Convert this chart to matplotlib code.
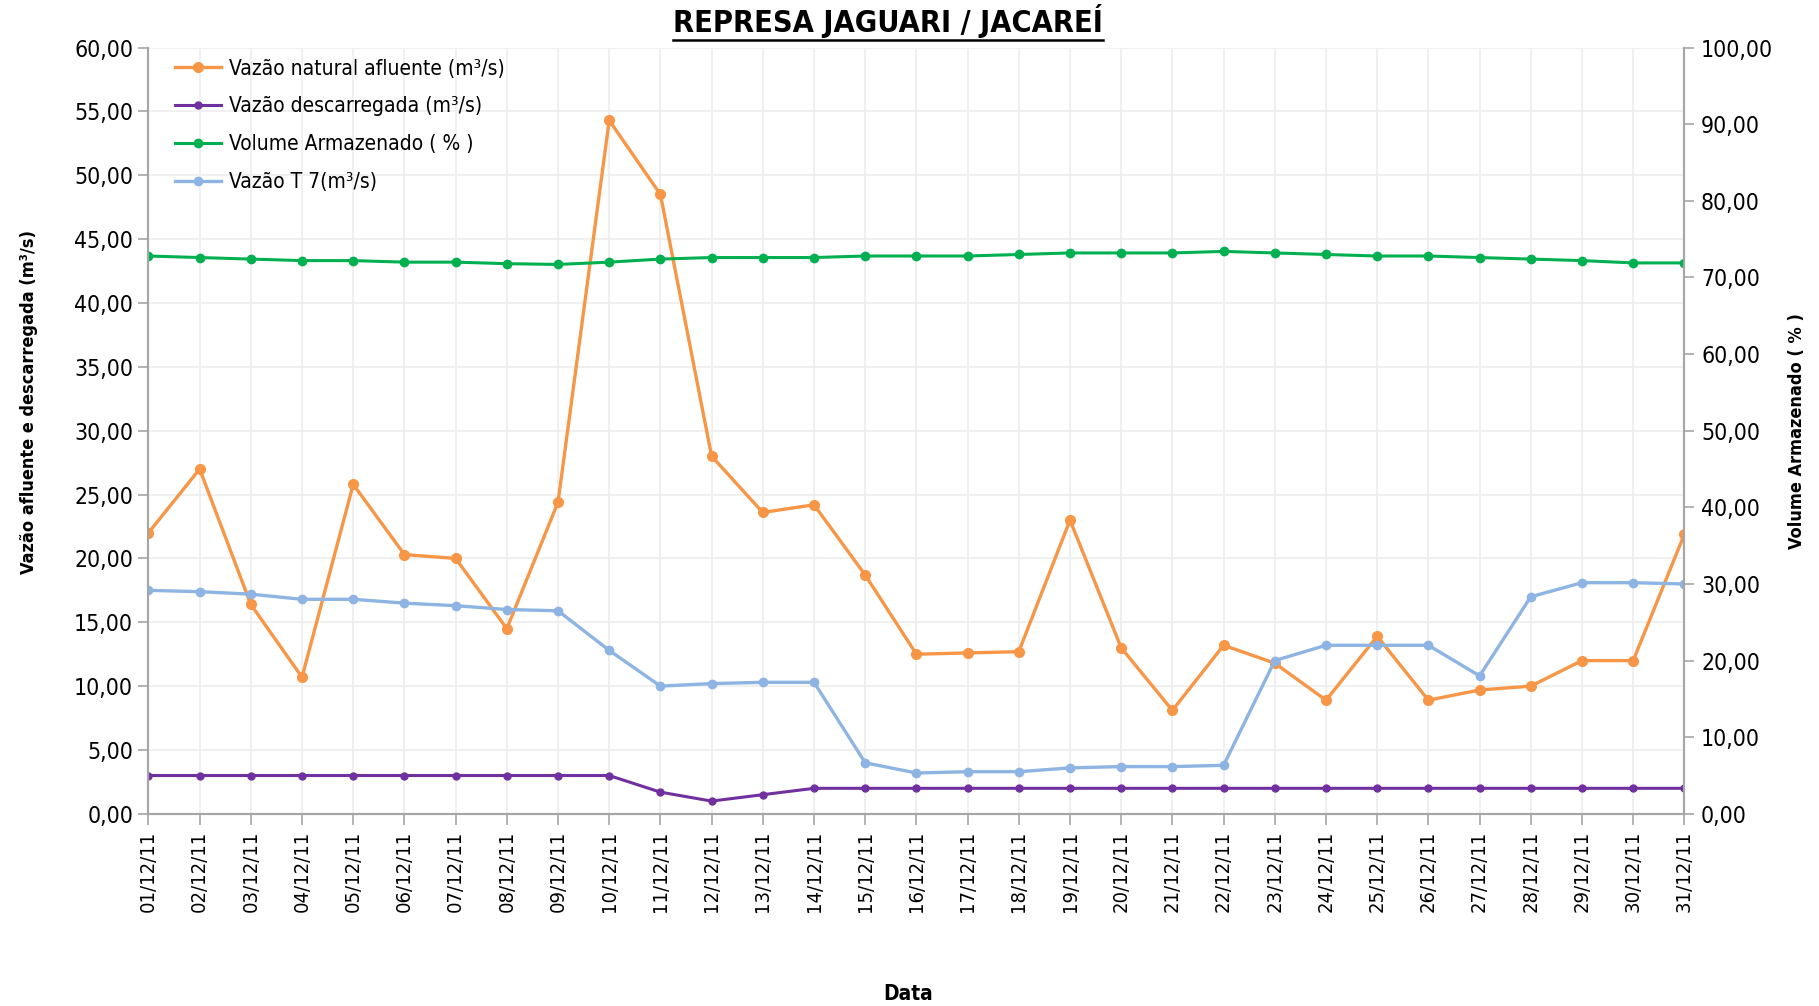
import matplotlib
matplotlib.use("Agg")
import matplotlib.pyplot as plt
from matplotlib.ticker import FuncFormatter, MultipleLocator
from matplotlib.lines import Line2D

# dados de dezembro/2011
datas = [f"{d:02d}/12/11" for d in range(1, 32)]

vazao_natural = [22.0, 27.0, 16.4, 10.7, 25.8, 20.3, 20.0, 14.5, 24.4, 54.3,
                 48.5, 28.0, 23.6, 24.2, 18.7, 12.5, 12.6, 12.7, 23.0, 13.0,
                 8.1, 13.2, 11.8, 8.9, 13.9, 8.9, 9.7, 10.0, 12.0, 12.0, 21.9]
vazao_descarregada = [3.0, 3.0, 3.0, 3.0, 3.0, 3.0, 3.0, 3.0, 3.0, 3.0,
                      1.7, 1.0, 1.5, 2.0, 2.0, 2.0, 2.0, 2.0, 2.0, 2.0,
                      2.0, 2.0, 2.0, 2.0, 2.0, 2.0, 2.0, 2.0, 2.0, 2.0, 2.0]
volume = [72.8, 72.6, 72.4, 72.2, 72.2, 72.0, 72.0, 71.8, 71.7, 72.0,
          72.4, 72.6, 72.6, 72.6, 72.8, 72.8, 72.8, 73.0, 73.2, 73.2,
          73.2, 73.4, 73.2, 73.0, 72.8, 72.8, 72.6, 72.4, 72.2, 71.9, 71.9]
vazao_t7 = [17.5, 17.4, 17.2, 16.8, 16.8, 16.5, 16.3, 16.0, 15.9, 12.8,
            10.0, 10.2, 10.3, 10.3, 4.0, 3.2, 3.3, 3.3, 3.6, 3.7,
            3.7, 3.8, 12.0, 13.2, 13.2, 13.2, 10.8, 17.0, 18.1, 18.1, 18.0]

plt.rcParams['font.family'] = ['DejaVu Sans']
plt.rcParams['font.stretch'] = 'condensed'

cinza = '#A6A6A6'
virgula = FuncFormatter(lambda v, p: f"{v:.2f}".replace('.', ','))

fig = plt.figure(figsize=(18.19, 10.06), dpi=100)
ax1 = fig.add_axes([0.0816, 0.191, 0.8444, 0.7617])
ax2 = ax1.twinx()

x = list(range(len(datas)))

l1, = ax1.plot(x, vazao_natural, color='#F79646', lw=2.4, marker='o', ms=7,
               label='Vazão natural afluente (m³/s)')
l2, = ax1.plot(x, vazao_descarregada, color='#7030A0', lw=2.2, marker='o', ms=5,
               label='Vazão descarregada (m³/s)')
l4, = ax1.plot(x, vazao_t7, color='#8DB4E2', lw=2.4, marker='o', ms=6,
               label='Vazão T 7(m³/s)')
l3, = ax2.plot(x, volume, color='#00B050', lw=2.2, marker='o', ms=6,
               label='Volume Armazenado ( % )')

ax1.set_xlim(0, len(datas) - 1)
ax1.set_ylim(0, 60)
ax2.set_ylim(0, 100)
ax1.yaxis.set_major_locator(MultipleLocator(5))
ax2.yaxis.set_major_locator(MultipleLocator(10))
ax1.yaxis.set_major_formatter(virgula)
ax2.yaxis.set_major_formatter(virgula)

ax1.set_xticks(x)
ax1.set_xticklabels(datas, rotation=90, fontsize=14.5)
ax1.tick_params(axis='x', length=8, color=cinza, width=1.2, pad=4)
ax1.tick_params(axis='y', length=7, color=cinza, width=1.2, labelsize=16.5, pad=4)
ax2.tick_params(axis='y', length=7, color=cinza, width=1.2, labelsize=16.5, pad=5)

ax1.grid(True, color='#EEEEEE', lw=1.2)
ax1.set_axisbelow(True)

for ax in (ax1, ax2):
    ax.spines['top'].set_visible(False)
    for s in ('left', 'right', 'bottom'):
        ax.spines[s].set_color(cinza)
        ax.spines[s].set_linewidth(1.5)

fig.text(0.016, 0.60, 'Vazão afluente e descarregada (m³/s)', rotation=90,
         ha='center', va='center', fontsize=13, fontweight='bold')
fig.text(0.988, 0.572, 'Volume Armazenado ( % )', rotation=90,
         ha='center', va='center', fontsize=13, fontweight='bold')
fig.text(0.499, 0.012, 'Data', ha='center', va='center', fontsize=15,
         fontweight='bold')

titulo = fig.text(0.488, 0.979, 'REPRESA JAGUARI / JACAREÍ', ha='center',
                  va='center', fontsize=22, fontweight='bold')

ax1.legend([l1, l2, l3, l4], [l.get_label() for l in (l1, l2, l3, l4)],
           loc='upper left', bbox_to_anchor=(0.005, 1.01), frameon=False,
           fontsize=15, labelspacing=0.85, handlelength=2.2, handletextpad=0.4)

# sublinhado do titulo
fig.canvas.draw()
bb = titulo.get_window_extent().transformed(fig.transFigure.inverted())
fig.add_artist(Line2D([bb.x0, bb.x1], [bb.y0 - 0.002, bb.y0 - 0.002],
                      color='black', lw=1.8, transform=fig.transFigure))

fig.savefig('out.png', dpi=100)
